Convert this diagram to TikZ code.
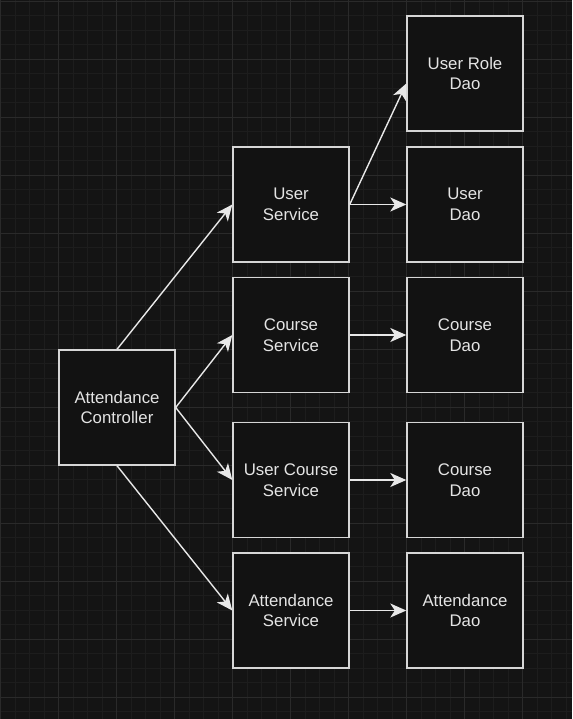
\documentclass[tikz,border=0pt]{standalone}
\usepackage{fontspec}
\setmainfont{Liberation Sans}
\usetikzlibrary{arrows.meta,calc}
\definecolor{bgc}{HTML}{141414}
\definecolor{minorg}{HTML}{1D1D1D}
\definecolor{majorg}{HTML}{2A2A2A}
\definecolor{boxline}{HTML}{D6D6D6}
\definecolor{boxfill}{HTML}{121212}
\definecolor{txtc}{HTML}{E4E4E4}
\definecolor{arrc}{HTML}{E8E8E8}
\tikzset{
  box/.style={draw=boxline, fill=boxfill, line width=1.4pt, minimum width=116pt, minimum height=115pt,
    inner sep=0pt, align=center, text=txtc, font=\fontsize{16.8}{20.5}\selectfont},
  conn/.style={draw=arrc, line width=1.4pt, -{Stealth[length=16pt,width=14pt,inset=4.5pt]}}
}
\begin{document}
\begin{tikzpicture}[x=1pt,y=-1pt]
\fill[bgc] (0,0) rectangle (572,719);
\useasboundingbox (0,0) rectangle (572,719);
% grid
\foreach \i in {0,...,40} {
  \draw[minorg, line width=0.6pt] ({0.3+14.5*\i},0) -- ({0.3+14.5*\i},719);
}
\foreach \j in {0,...,50} {
  \draw[minorg, line width=0.6pt] (0,{1+14.5*\j}) -- (572,{1+14.5*\j});
}
\foreach \i in {0,...,10} {
  \draw[majorg, line width=0.8pt] ({0.3+58*\i},0) -- ({0.3+58*\i},719);
}
\foreach \j in {0,...,12} {
  \draw[majorg, line width=0.8pt] (0,{1+58*\j}) -- (572,{1+58*\j});
}
% nodes
\node[box] (ac) at (117,407.5) {Attendance\\Controller};
\node[box] (us) at (291,204.5) {User\\Service};
\node[box] (cs) at (291,335) {Course\\Service};
\node[box] (ucs) at (291,480) {User Course\\Service};
\node[box] (as) at (291,610.5) {Attendance\\Service};
\node[box] (urd) at (465,73.5) {User Role\\Dao};
\node[box] (ud) at (465,204.5) {User\\Dao};
\node[box] (cd1) at (465,335) {Course\\Dao};
\node[box] (cd2) at (465,480) {Course\\Dao};
\node[box] (ad) at (465,610.5) {Attendance\\Dao};
% connectors
\draw[conn] (ac.north) -- (us.west);
\draw[conn] (ac.east) -- (cs.west);
\draw[conn] (ac.east) -- (ucs.west);
\draw[conn] (ac.south) -- (as.west);
\draw[conn] (us.east) -- ($(urd.west)+(0,10)$);
\draw[conn] (us.east) -- (ud.west);
\draw[conn] (cs.east) -- (cd1.west);
\draw[conn] (ucs.east) -- (cd2.west);
\draw[conn] (as.east) -- (ad.west);
\end{tikzpicture}
\end{document}
